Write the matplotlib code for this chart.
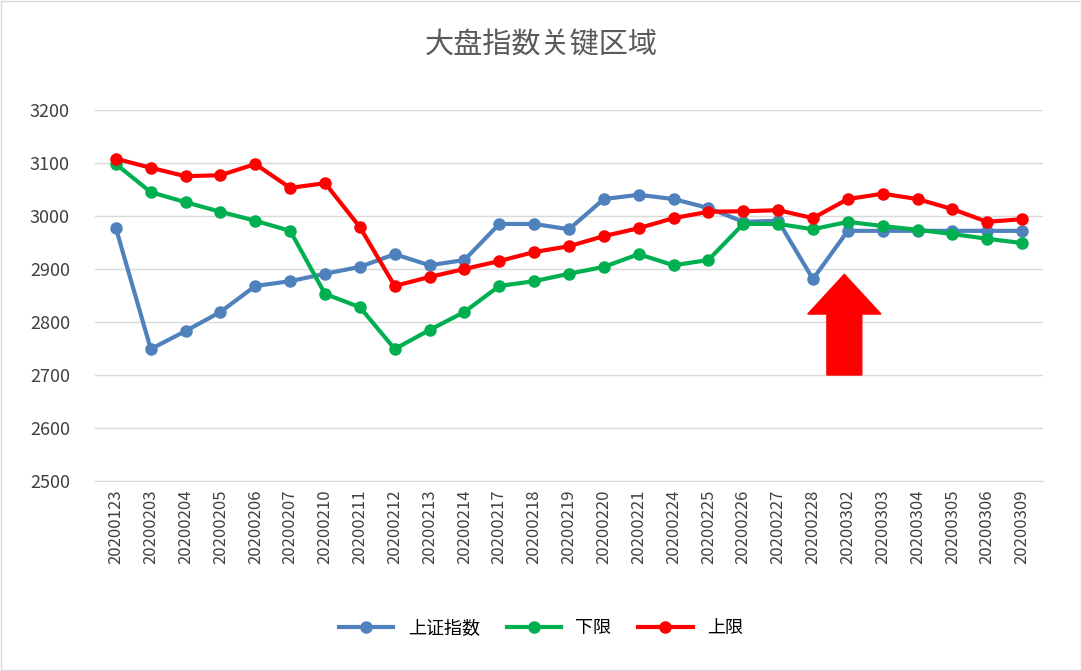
import matplotlib
matplotlib.use("Agg")
import matplotlib.pyplot as plt
from matplotlib import font_manager
from matplotlib.patches import FancyArrow

cjk = [f.name for f in font_manager.fontManager.ttflist if "CJK" in f.name]
pref = [n for n in cjk if "SC" in n] or cjk
plt.rcParams["font.family"] = (pref[:1] if pref else []) + ["DejaVu Sans"]

dates = ["20200123","20200203","20200204","20200205","20200206","20200207","20200210",
         "20200211","20200212","20200213","20200214","20200217","20200218","20200219",
         "20200220","20200221","20200224","20200225","20200226","20200227","20200228",
         "20200302","20200303","20200304","20200305","20200306","20200309"]
index_vals = [2977,2749,2783,2819,2868,2877,2891,2904,2928,2907,2917,2985,2985,2975,
              3032,3040,3032,3015,2989,2991,2881,2972,2972,2972,2972,2972,2972]
lower_vals = [3098,3045,3026,3008,2991,2972,2853,2828,2749,2785,2819,2868,2877,2891,
              2904,2928,2907,2917,2985,2985,2975,2989,2981,2974,2966,2957,2949]
upper_vals = [3108,3091,3075,3077,3098,3053,3062,2979,2868,2885,2900,2915,2932,2943,
              2962,2977,2996,3008,3009,3011,2996,3032,3042,3032,3013,2989,2994]
series_names = ["上证指数", "下限", "上限"]
colors = ["#4F81BD", "#00B050", "#FF0000"]

fig = plt.figure(figsize=(10.82, 6.71), dpi=100)
ax = fig.add_axes([95/1082, 1-481/671, (1043-95)/1082, (481-110)/671])
x = list(range(len(dates)))
for vals, name, c in zip([index_vals, lower_vals, upper_vals], series_names, colors):
    ax.plot(x, vals, color=c, lw=3, marker="o", ms=8, label=name, zorder=3)

ax.set_ylim(2500, 3200)
ax.set_yticks(range(2500, 3201, 100))
ax.set_xlim(-0.6, len(dates) - 0.4)
ax.set_xticks(x)
ax.set_xticklabels(dates, rotation=90, fontsize=12, color="#404040")
ax.tick_params(axis="y", labelsize=13, labelcolor="#404040", length=0, pad=18)
ax.tick_params(axis="x", length=0, pad=6)
ax.grid(axis="y", color="#D9D9D9", lw=1)
for s in ["top", "right", "left"]:
    ax.spines[s].set_visible(False)
ax.spines["bottom"].set_color("#D9D9D9")

ax.add_patch(FancyArrow(20.9, 2700, 0, 190, width=1.0, head_width=2.1,
                        head_length=75, length_includes_head=True,
                        color="#FF0000", zorder=4))

fig.text(0.5, 1-45/671, "大盘指数关键区域", ha="center", va="center",
         fontsize=21, color="#595959")
fig.legend(loc="center", bbox_to_anchor=(0.5, 1-628/671), ncol=3, frameon=False,
           fontsize=13, handlelength=3, columnspacing=1.5)
fig.patches.append(plt.Rectangle((0.001, 0.001), 0.998, 0.998, transform=fig.transFigure,
                                 fill=False, edgecolor="#D9D9D9", lw=1))
fig.savefig("out.png", dpi=100)
